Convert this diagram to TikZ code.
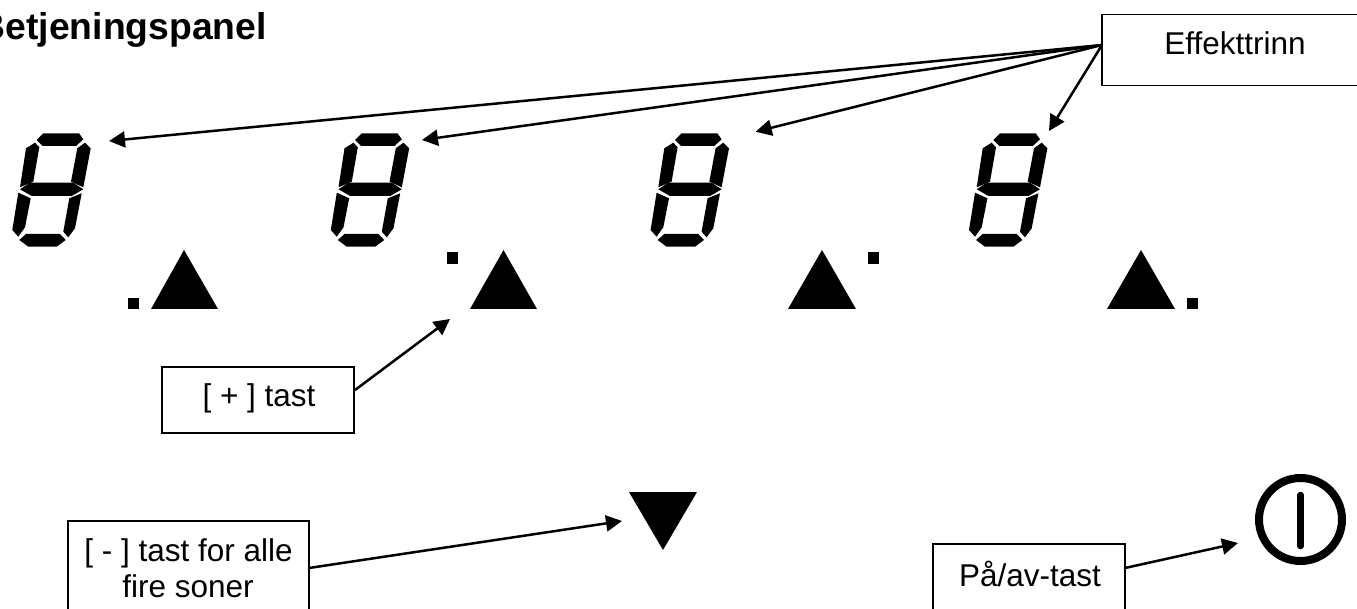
\documentclass[tikz,border=0pt]{standalone}
\usepackage{fontspec}
\setmainfont{Liberation Sans}
\usetikzlibrary{arrows.meta}
\tikzset{
  px/.style={x=1pt,y=-1pt},
  seg/.style={fill=black,draw=none},
  label box/.style={draw=black,line width=1.6pt,fill=white,inner sep=0pt},
  label text/.style={inner sep=0pt,anchor=base,font=\fontsize{31.5}{36}\selectfont},
  pointer/.style={draw=black,line width=2.5pt,-{Triangle[length=16pt,width=16pt]}},
}
\newcommand{\digitat}[1]{%
\begin{scope}[shift={(#1,110)}]
 \fill[seg] (36.7,30)--(43.3,23.3)--(79,23.3)--(83.3,29.3)--(76,36)--(42.7,36)--cycle;
 \fill[seg] (85,32.7)--(90.7,38.3)--(83.3,77.3)--(71,71.7)--(77.3,38.3)--cycle;
 \fill[seg] (35,32.7)--(39.3,37.3)--(33.3,71.7)--(20,77.3)--(26,38.3)--cycle;
 \fill[seg] (20,79.3)--(30,72.7)--(73.3,72.7)--(83.3,79.3)--(71.7,86)--(31.7,86)--cycle;
 \fill[seg] (18.3,82.7)--(30.7,88.3)--(25,117.3)--(18.3,126.7)--(12.3,120)--cycle;
 \fill[seg] (81.7,83.3)--(75,118.3)--(68.3,127.3)--(63.3,121.7)--(69.3,88.3)--cycle;
 \fill[seg] (19.3,130)--(26,124)--(60,124)--(65.7,130)--(56.7,136.7)--(28.3,136.7)--cycle;
\end{scope}}
\begin{document}
\begin{tikzpicture}[px]
\useasboundingbox (0,0) rectangle (1357,609);
\clip (0,0) rectangle (1357,609);
\fill[white] (0,0) rectangle (1357,609);
\node[anchor=base west,inner sep=0pt,font=\bfseries\fontsize{37.3}{42}\selectfont] (title) at (-21.5,40) {Betjeningspanel};
\digitat{0}\digitat{318.5}\digitat{638.3}\digitat{956.7}
\fill (184,250)--(218,309)--(151,309)--cycle;
\fill (503.5,250)--(537,309)--(470,309)--cycle;
\fill (822,250)--(856,309)--(788,309)--cycle;
\fill (1141,250)--(1175,309)--(1107,309)--cycle;
\fill (128,298) rectangle (139,309);
\fill (447,252.3) rectangle (458,263.7);
\fill (868,252.3) rectangle (879.3,263.7);
\fill (1186.7,297.7) rectangle (1198.3,309);
\fill (629,492)--(697,492)--(663,550)--cycle;
\draw[line width=8pt] (1300.5,519.5) circle (41.5);
\draw[line width=6.5pt,line cap=round] (1300.5,495)--(1300.5,546);
\node[label box,minimum width=260pt,minimum height=71pt] (eff) at (1232,50) {};
\node[label text] (efft) at (1235,55) {Effekttrinn};
\node[label box,minimum width=192pt,minimum height=66pt] (plus) at (258,400) {};
\node[label text] (plust) at (259,406.7) {[ + ] tast};
\node[label box,minimum width=241pt,minimum height=110pt] (minus) at (188.5,576) {};
\node[label text] (minust) at (188.5,561) {[ - ] tast for alle};
\node[label text] (minusu) at (188,597) {fire soner};
\node[label box,minimum width=192pt,minimum height=110pt] (onoff) at (1028.7,599) {};
\node[label text] (onofft) at (1030,586) {På/av-tast};
\coordinate (t1) at (109,141);
\coordinate (t2) at (422,140);
\coordinate (t3) at (755.7,131.7);
\coordinate (t4) at (1049,131);
\coordinate (tp) at (450,319);
\coordinate (tm) at (622,521);
\coordinate (to) at (1238,543);
\coordinate (e) at (1102,45);
\coordinate (ps) at (355,390);
\coordinate (ms) at (309,568);
\coordinate (os) at (1125,568);
\draw[pointer] (e)--(t1);
\draw[pointer] (e)--(t2);
\draw[pointer] (e)--(t3);
\draw[pointer] (e)--(t4);
\draw[pointer] (ps)--(tp);
\draw[pointer] (ms)--(tm);
\draw[pointer] (os)--(to);
\end{tikzpicture}
\end{document}
